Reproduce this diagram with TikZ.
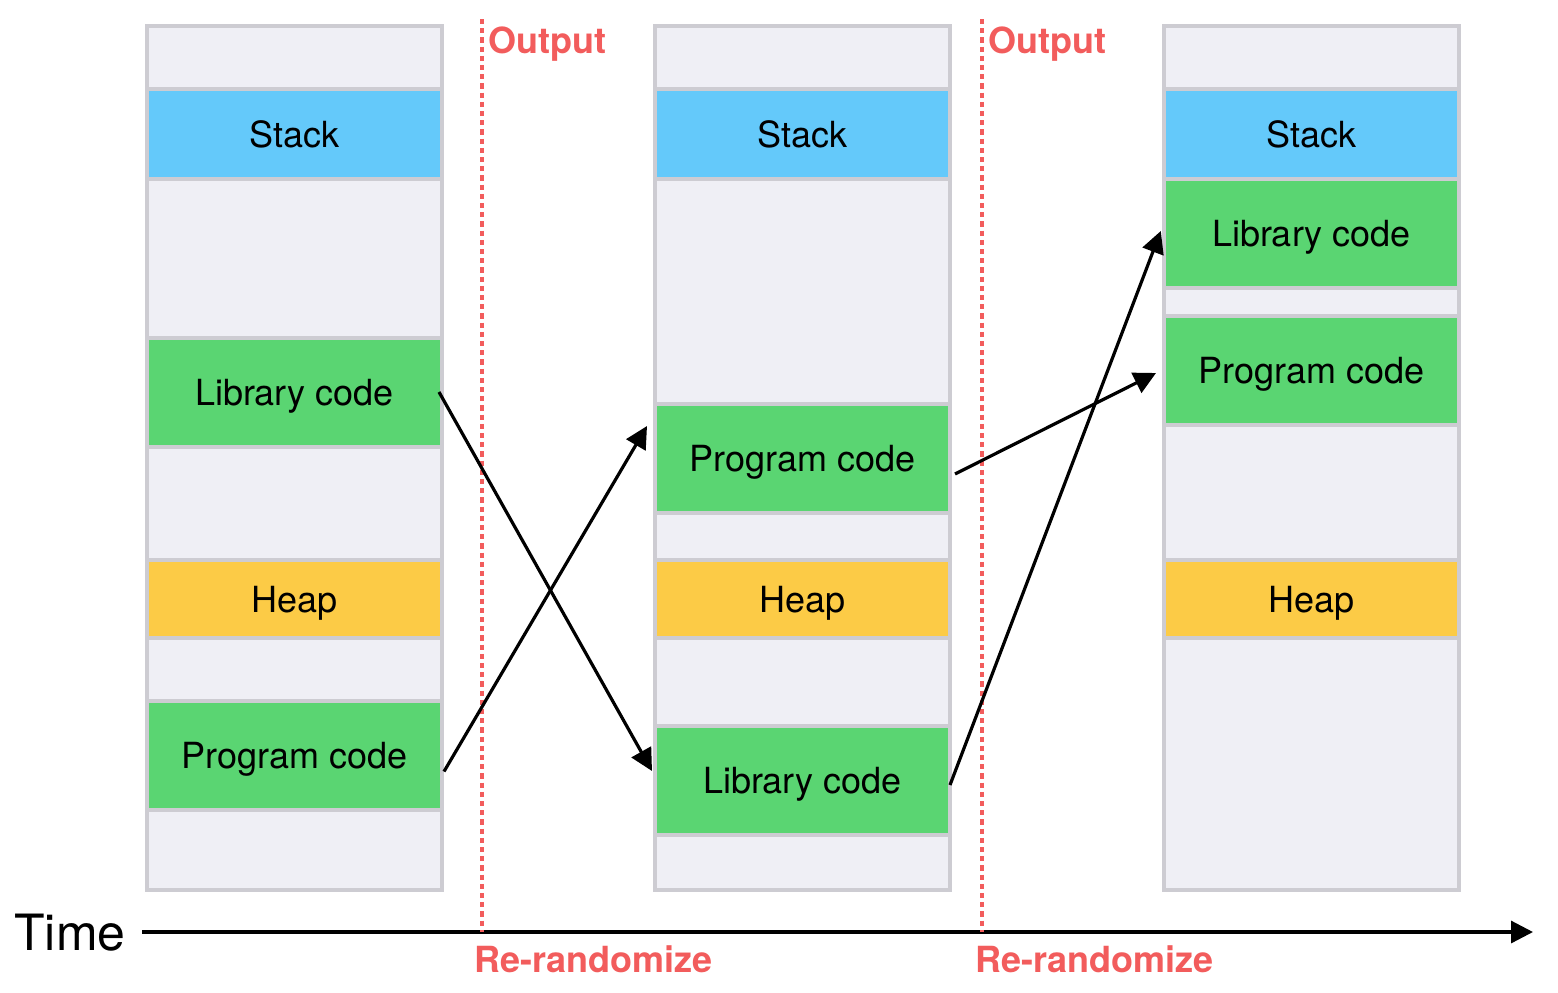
\documentclass[tikz,border=0pt]{standalone}
\usepackage{fontspec}
\setmainfont{TeX Gyre Heros}
\usetikzlibrary{arrows.meta}
\definecolor{figBg}{RGB}{239,239,245}
\definecolor{figLn}{RGB}{205,204,210}
\definecolor{figS}{RGB}{100,201,250}
\definecolor{figC}{RGB}{90,213,114}
\definecolor{figH}{RGB}{252,203,70}
\definecolor{figR}{RGB}{242,92,92}
\begin{document}
\begin{tikzpicture}[x=0.5pt,y=-0.5pt,>={Triangle[length=11pt,width=11pt]},
  blk/.style={draw=figLn,line width=2pt,inner sep=0pt,outer sep=0pt,minimum width=147.5pt,
    text height=13pt,text depth=0pt,font=\fontsize{18}{20}\selectfont},
  memcol/.style={blk,fill=figBg,minimum height=432pt},
  stackblk/.style={blk,fill=figS,minimum height=45pt},
  codeblk/.style={blk,fill=figC,minimum height=54.5pt},
  heapblk/.style={blk,fill=figH,minimum height=39pt},
  cutline/.style={figR,line width=2pt,dash pattern=on 2.6pt off 2pt},
  randlbl/.style={figR,font=\bfseries\fontsize{18}{20}\selectfont,inner sep=0pt},
  moveto/.style={->,line width=1.6pt}]
\useasboundingbox (0,0) rectangle (1558,992);
% memory layouts
\node[memcol] (col1) at (294.5,458) {};
\node[memcol] (col2) at (802.5,458) {};
\node[memcol] (col3) at (1311.5,458) {};
\node[stackblk] (stk1) at (294.5,134) {Stack};
\node[codeblk] (lib1) at (294.5,392) {Library code};
\node[heapblk] (hp1) at (294.5,599) {Heap};
\node[codeblk] (prog1) at (294.5,755.5) {Program code};
\node[stackblk] (stk2) at (802.5,134) {Stack};
\node[codeblk] (prog2) at (802.5,458) {Program code};
\node[heapblk] (hp2) at (802.5,599) {Heap};
\node[codeblk] (lib2) at (802.5,780.5) {Library code};
\node[stackblk] (stk3) at (1311.5,134) {Stack};
\node[codeblk] (lib3) at (1311.5,233.5) {Library code};
\node[codeblk] (prog3) at (1311.5,370.5) {Program code};
\node[heapblk] (hp3) at (1311.5,599) {Heap};
% time axis
\node[anchor=base west,inner sep=0pt,font=\fontsize{25}{28}\selectfont] (time) at (14,950) {Time};
\coordinate (t0) at (142,932);
\coordinate (t1) at (1533,932);
\draw[moveto] (t0) -- (t1);
% re-randomization points
\coordinate (r1) at (482,19);
\coordinate (r2) at (982,19);
\draw[cutline] (r1) -- (r1 |- t0);
\draw[cutline] (r2) -- (r2 |- t0);
\node[randlbl,anchor=base west] (out1) at (488,53) {Output};
\node[randlbl,anchor=base west] (out2) at (988,53) {Output};
\node[randlbl,anchor=base west] (rr1) at (474,972) {Re-randomize};
\node[randlbl,anchor=base west] (rr2) at (975,972) {Re-randomize};
% moves
\draw[moveto] ([xshift=-1.5pt]lib1.east) -- ([xshift=-1.5pt,yshift=4.75pt]lib2.west);
\draw[moveto] ([xshift=1pt,yshift=-8pt]prog1.east) -- ([xshift=-4pt,yshift=16pt]prog2.west);
\draw[moveto] ([xshift=2.5pt,yshift=-8pt]prog2.east) -- ([xshift=-4pt,yshift=-1.25pt]prog3.west);
\draw[moveto] ([yshift=-2.25pt]lib2.east) -- ([xshift=-1.6pt,yshift=1.25pt]lib3.west);
\end{tikzpicture}
\end{document}
